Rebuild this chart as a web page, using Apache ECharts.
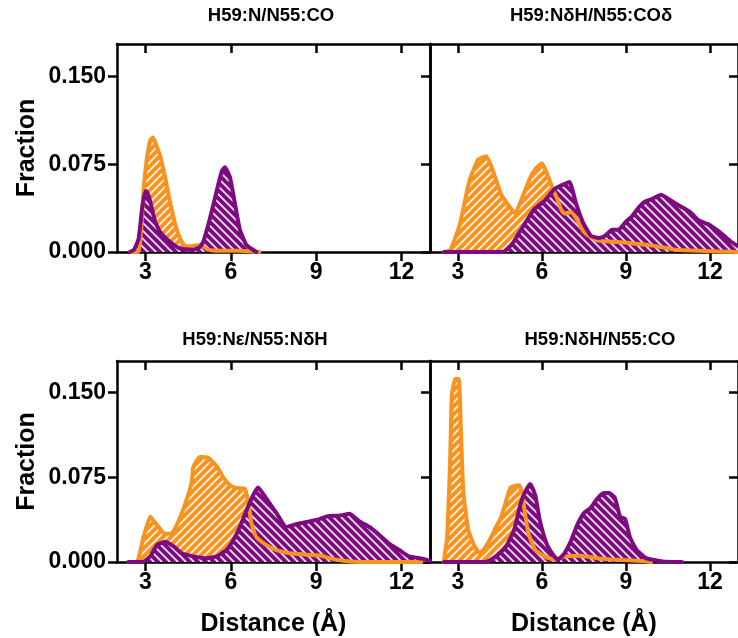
<!DOCTYPE html>
<html><head><meta charset="utf-8">
<script src="https://cdn.jsdelivr.net/npm/echarts@6/dist/echarts.min.js"></script>
<style>html,body{margin:0;padding:0;background:#fff}#c{width:738px;height:638px}</style>
</head><body><div id="c"></div>
<script>
// ---- data ----
const titles = ['H59:N/N55:CO', 'H59:N\u03B4H/N55:CO\u03B4', 'H59:N\u03B5/N55:N\u03B4H', 'H59:N\u03B4H/N55:CO'];
const xTicks = [3, 6, 9, 12];
const yTicks = [0, 0.075, 0.150];
const xName = 'Distance (\u00C5)';
const yName = 'Fraction';

const p1Orange = [[2.5,0],[2.75,0],[2.85,0.02],[2.93,0.052],[3.0,0.07],[3.05,0.08],[3.17,0.096],[3.27,0.098],[3.4,0.09],[3.52,0.082],[3.69,0.064],[3.87,0.042],[4.1,0.019],[4.25,0.01],[4.4,0.005],[4.6,0.005],[4.92,0.006],[5.2,0.002],[5.6,0.001],[6.2,0.001],[6.8,0.0005],[7.0,0]];
const p1Purple = [[2.45,0],[2.6,0.002],[2.76,0.0115],[2.88,0.037],[2.99,0.052],[3.05,0.052],[3.17,0.043],[3.34,0.026],[3.52,0.017],[3.87,0.0086],[4.22,0.003],[4.7,0.002],[4.9,0.004],[5.03,0.0086],[5.27,0.029],[5.5,0.052],[5.68,0.069],[5.79,0.0725],[5.97,0.064],[6.14,0.042],[6.32,0.019],[6.55,0.006],[6.9,0]];
const p2Orange = [[2.5,0],[2.72,0.0015],[2.9,0.012],[3.07,0.024],[3.25,0.044],[3.42,0.062],[3.72,0.079],[4.01,0.082],[4.24,0.07],[4.53,0.05],[4.83,0.039],[5.04,0.033],[5.3,0.047],[5.59,0.064],[5.8,0.072],[6.0,0.076],[6.23,0.064],[6.4,0.053],[6.52,0.047],[6.69,0.036],[6.8,0.033],[7.04,0.034],[7.27,0.027],[7.5,0.017],[7.97,0.01],[8.67,0.0086],[9.37,0.007],[10.07,0.005],[10.77,0.002],[11.58,0.001],[13,0]];
const p2Purple = [[2.5,0],[4.6,0],[4.94,0.007],[5.3,0.021],[5.7,0.036],[6.1,0.044],[6.45,0.054],[6.69,0.057],[6.98,0.06],[7.21,0.042],[7.45,0.026],[7.74,0.014],[8.03,0.012],[8.26,0.014],[8.5,0.019],[8.73,0.019],[9.0,0.026],[9.2,0.03],[9.45,0.038],[9.67,0.043],[9.9,0.045],[10.25,0.049],[10.6,0.044],[10.95,0.039],[11.3,0.034],[11.6,0.027],[12.0,0.023],[12.35,0.017],[12.74,0.009],[13,0.005]];
const p3Orange = [[2.5,0],[2.7,0],[2.93,0.022],[3.17,0.04],[3.46,0.031],[3.69,0.025],[3.93,0.0255],[4.16,0.036],[4.39,0.051],[4.63,0.071],[4.68,0.084],[4.92,0.093],[5.21,0.092],[5.5,0.085],[5.73,0.075],[5.97,0.068],[6.2,0.0655],[6.49,0.065],[6.61,0.0535],[6.73,0.0335],[6.9,0.022],[7.25,0.015],[7.6,0.0106],[8.07,0.0077],[8.42,0.007],[8.77,0.0063],[9.1,0.006],[9.47,0.0034],[9.82,0.0015],[10.5,0],[12.7,0]];
const p3Purple = [[2.4,0],[2.93,0.0003],[3.17,0.005],[3.4,0.015],[3.69,0.018],[3.98,0.014],[4.28,0.0077],[4.68,0.005],[5.15,0.0034],[5.5,0.005],[5.85,0.0106],[6.08,0.019],[6.32,0.031],[6.54,0.045],[6.78,0.059],[6.96,0.066],[7.25,0.056],[7.6,0.0435],[7.95,0.031],[8.3,0.0335],[8.77,0.036],[9.12,0.038],[9.4,0.0406],[9.8,0.041],[10.17,0.0427],[10.52,0.036],[10.87,0.031],[11.22,0.024],[11.57,0.016],[11.92,0.0106],[12.27,0.005],[12.74,0.003],[13,0.001]];
const p4Orange = [[2.49,0],[2.61,0.022],[2.72,0.091],[2.78,0.148],[2.9,0.162],[3.03,0.162],[3.1,0.119],[3.19,0.062],[3.37,0.028],[3.6,0.0135],[3.78,0.0077],[3.95,0.012],[4.12,0.019],[4.36,0.031],[4.53,0.039],[4.71,0.0535],[4.88,0.066],[5.17,0.068],[5.29,0.062],[5.38,0.045],[5.52,0.025],[5.76,0.0106],[6.1,0.005],[6.45,0.002],[6.8,0.005],[7.39,0.0055],[7.97,0.0034],[8.67,0.002],[9.72,0.0006],[9.9,0]];
const p4Purple = [[2.5,0],[4.0,0],[4.36,0.005],[4.71,0.0135],[5.0,0.028],[5.23,0.051],[5.4,0.062],[5.58,0.069],[5.76,0.059],[5.93,0.036],[6.17,0.016],[6.4,0.0063],[6.57,0.002],[6.8,0.0077],[7.04,0.019],[7.27,0.0335],[7.5,0.0435],[7.74,0.048],[7.97,0.056],[8.21,0.061],[8.4,0.061],[8.6,0.057],[8.79,0.04],[8.97,0.038],[9.14,0.022],[9.38,0.0106],[9.72,0.0034],[10.3,0.0005],[11.0,0]];

const panels = [[p1Orange, p1Purple],[p2Orange, p2Purple],[p3Orange, p3Purple],[p4Orange, p4Purple]];

// ---- style ----
const ORANGE = '#F7931E', PURPLE = '#7E0A82';
const FONT = '"Liberation Sans", Arial, sans-serif';
function hatch(color, dir) {
  const s = 8, c = document.createElement('canvas');
  c.width = s; c.height = s;
  const g = c.getContext('2d');
  g.fillStyle = color; g.fillRect(0, 0, s, s);
  g.strokeStyle = 'rgba(255,255,255,0.9)'; g.lineWidth = 1.7;
  g.beginPath();
  if (dir > 0) { // "/"
    g.moveTo(-2, s + 2); g.lineTo(s + 2, -2);
    g.moveTo(-2, 2); g.lineTo(2, -2);
    g.moveTo(s - 2, s + 2); g.lineTo(s + 2, s - 2);
  } else { // "\"
    g.moveTo(-2, -2); g.lineTo(s + 2, s + 2);
    g.moveTo(s - 2, -2); g.lineTo(s + 2, 2);
    g.moveTo(-2, s - 2); g.lineTo(2, s + 2);
  }
  g.stroke();
  return c;
}
const orangeFill = { image: hatch(ORANGE, 1), repeat: 'repeat' };
const purpleFill = { image: hatch(PURPLE, -1), repeat: 'repeat' };

const grids = [
  { left: 117, top: 44, width: 313, height: 208 },
  { left: 430, top: 44, width: 314, height: 208 },
  { left: 117, top: 361, width: 313, height: 208 },
  { left: 430, top: 361, width: 314, height: 208 }
];
const axisLine = { show: true, onZero: false, lineStyle: { color: '#000', width: 2.5 } };
const labelFont = { color: '#000', fontFamily: FONT, fontWeight: 'bold', fontSize: 23 };
const nameFont = { color: '#000', fontFamily: FONT, fontWeight: 'bold', fontSize: 25 };
const xAxes = [], yAxes = [], series = [];
grids.forEach((g, i) => {
  const bottomRow = i >= 2, leftCol = i % 2 === 0;
  xAxes.push({
    type: 'value', gridIndex: i, position: 'bottom', min: 2, max: 13,
    axisLine, splitLine: { show: false },
    axisTick: { show: true, inside: false, length: 9, customValues: xTicks, lineStyle: { color: '#000', width: 2.5 } },
    axisLabel: Object.assign({ show: true, customValues: xTicks, margin: 9 }, labelFont),
    name: bottomRow ? xName : '', nameLocation: 'middle', nameGap: 50,
    nameTextStyle: nameFont
  });
  xAxes.push({
    type: 'value', gridIndex: i, position: 'top', min: 2, max: 13,
    axisLine, splitLine: { show: false },
    axisTick: { show: true, inside: true, length: 9, customValues: xTicks, lineStyle: { color: '#000', width: 2.5 } },
    axisLabel: { show: false }
  });
  yAxes.push({
    type: 'value', gridIndex: i, position: 'left', min: 0, max: 0.178,
    axisLine, splitLine: { show: false },
    axisTick: { show: true, inside: false, length: 9, customValues: yTicks, lineStyle: { color: '#000', width: 2.5 } },
    axisLabel: Object.assign({ show: leftCol, customValues: yTicks, margin: 11, formatter: v => v.toFixed(3) }, labelFont),
    name: leftCol ? yName : '', nameLocation: 'middle', nameGap: 77, nameRotate: 90,
    nameTextStyle: nameFont
  });
  yAxes.push({
    type: 'value', gridIndex: i, position: 'right', min: 0, max: 0.178,
    axisLine, splitLine: { show: false },
    axisTick: { show: true, inside: true, length: 9, customValues: yTicks, lineStyle: { color: '#000', width: 2.5 } },
    axisLabel: { show: false }
  });
  const [o, p] = panels[i];
  const base = { type: 'line', xAxisIndex: 2 * i, yAxisIndex: 2 * i, symbol: 'none', silent: true, animation: false, smooth: 0.15 };
  series.push(Object.assign({}, base, { data: o, lineStyle: { width: 0 }, areaStyle: { color: orangeFill, opacity: 1 } }));
  series.push(Object.assign({}, base, { data: p, lineStyle: { width: 0 }, areaStyle: { color: purpleFill, opacity: 1 } }));
  series.push(Object.assign({}, base, { data: o, lineStyle: { width: 4, color: ORANGE, join: 'round', cap: 'round' } }));
  series.push(Object.assign({}, base, { data: p, lineStyle: { width: 4, color: PURPLE, join: 'round', cap: 'round' } }));
});

const titlePos = [[271, 16], [591, 16], [255, 340], [600, 340]];
const graphic = titles.map((t, i) => ({
  type: 'text', x: titlePos[i][0], y: titlePos[i][1], silent: true,
  style: { text: t, fill: '#000', font: 'bold 18.5px ' + FONT, textAlign: 'center', textVerticalAlign: 'middle' }
}));

const chart = echarts.init(document.getElementById('c'), null, { renderer: 'canvas' });
chart.setOption({
  animation: false,
  grid: grids, xAxis: xAxes, yAxis: yAxes, series, graphic
});
</script></body></html>
